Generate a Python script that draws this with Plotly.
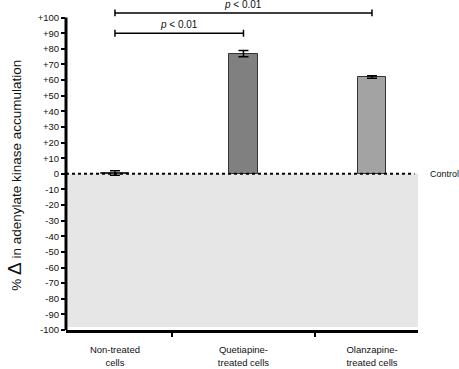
import plotly.graph_objects as go

categories = ["Non-treated<br>cells", "Quetiapine-<br>treated cells", "Olanzapine-<br>treated cells"]
values = [0.5, 77, 62]
errors = [1.5, 2.0, 0.8]
bar_colors = ["#ffffff", "#808080", "#a3a3a3"]
y_ticks = list(range(-100, 101, 10))
y_tick_text = [("+" + str(v)) if v > 0 else str(v) for v in y_ticks]
comparisons = [(0, 2, 103.0, "<i>p</i> < 0.01"), (0, 1, 90.0, "<i>p</i> < 0.01")]

xpos = list(range(len(categories)))

fig = go.Figure()
fig.add_trace(go.Bar(
    x=xpos, y=values, width=0.225,
    marker=dict(color=bar_colors, line=dict(color="#333333", width=1)),
    error_y=dict(type="data", array=errors, color="black", thickness=1.5, width=5),
    showlegend=False,
))

# significance brackets
for a, b, yb, txt in comparisons:
    fig.add_trace(go.Scatter(
        x=[a, a, a, b, b, b], y=[yb + 2.2, yb - 2.2, yb, yb, yb + 2.2, yb - 2.2],
        mode="lines", line=dict(color="black", width=1.5), showlegend=False,
        hoverinfo="skip",
    ))
    fig.add_annotation(x=(a + b) / 2, y=yb + 0.5, text=txt, showarrow=False,
                       yanchor="bottom", font=dict(size=10, color="#111"))

# grey negative region
fig.add_shape(type="rect", xref="paper", yref="y", x0=0.006, x1=1, y0=-98, y1=0,
              fillcolor="#e6e6e6", line=dict(width=0), layer="below")
# control dotted line
fig.add_shape(type="line", xref="paper", yref="y", x0=0, x1=0.99, y0=0, y1=0,
              line=dict(color="black", width=2, dash="dot"))
# y-axis line
fig.add_shape(type="line", xref="paper", yref="y", x0=0, x1=0, y0=-100, y1=100,
              line=dict(color="black", width=3))
fig.add_annotation(xref="paper", yref="y", x=1, y=0, xshift=10, text="Control",
                   showarrow=False, xanchor="left", font=dict(size=9, color="#111"))
fig.add_annotation(xref="paper", yref="paper", x=0, y=0.47, xshift=-51,
                   text="% <span style='font-size:19px'>Δ</span> in adenylate kinase accumulation",
                   textangle=-90, showarrow=False, xanchor="center", yanchor="middle",
                   font=dict(size=13.5, color="#111"))

fig.update_layout(
    width=459, height=369,
    margin=dict(l=66, r=41, t=2, b=39, autoexpand=False),
    paper_bgcolor="white", plot_bgcolor="white",
    font=dict(family="Arial, Liberation Sans, sans-serif", color="#111"),
    bargap=0,
)
fig.update_xaxes(
    range=[-0.381, 2.358], tickvals=xpos, ticktext=categories, ticks="",
    tickfont=dict(size=9.5), ticklabelstandoff=9, automargin=False,
    showline=True, linewidth=3, linecolor="black", showgrid=False, zeroline=False,
    minor=dict(tickvals=[0.444, 1.556], ticks="outside", ticklen=4, tickwidth=2, tickcolor="black"),
)
fig.update_yaxes(
    range=[-100, 110], tickvals=y_ticks, ticktext=y_tick_text, automargin=False,
    ticks="outside", ticklen=4, tickwidth=2, tickcolor="black",
    tickfont=dict(size=9.5), showline=False, showgrid=False, zeroline=False,
)
fig.write_html("out.html", config={"displayModeBar": False},
               post_script="document.body.style.margin='0';")
